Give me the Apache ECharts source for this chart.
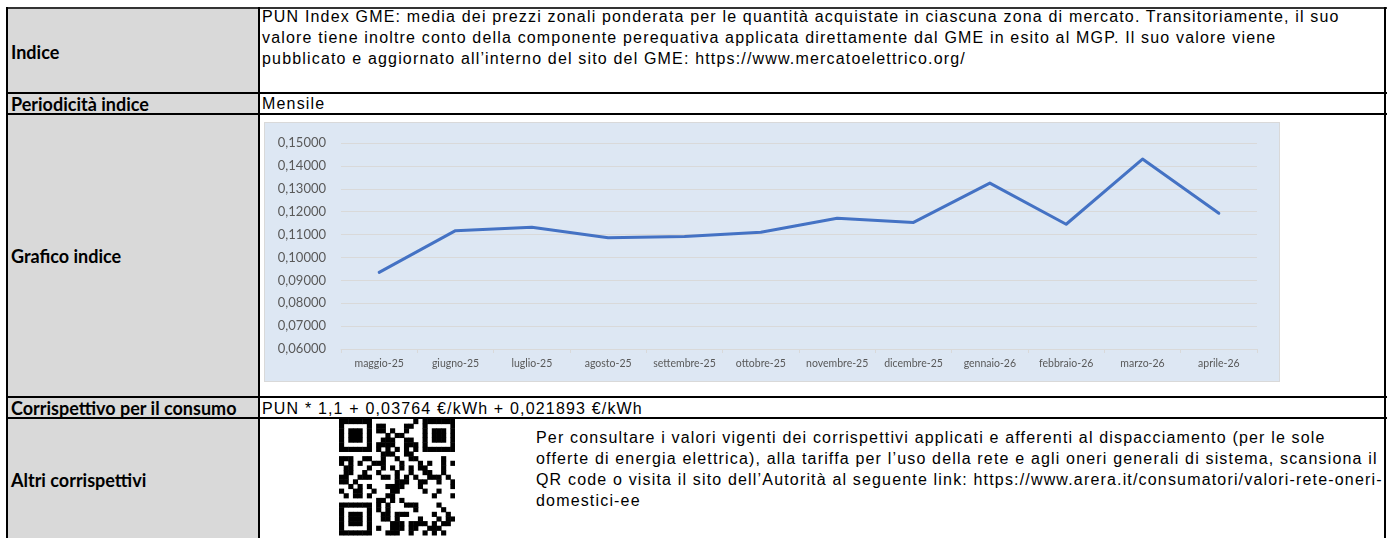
<!DOCTYPE html>
<html>
<head>
<meta charset="utf-8">
<script src="https://cdn.jsdelivr.net/npm/echarts@6/dist/echarts.min.js"></script>
<style>
  html, body { margin: 0; padding: 0; background: #fff; width: 1394px; height: 538px; overflow: hidden; }
  .cell { position: absolute; box-sizing: border-box; }
  .lab { background: #d9d9d9; font-family: Lato, "Open Sans", sans-serif; font-weight: bold; font-size: 18px; color: #000; padding-left: 4px; display: flex; align-items: center; white-space: nowrap; }
  .txt { position: absolute; font-family: "Liberation Sans", Arial, sans-serif; font-size: 16px; letter-spacing: 1.17px; color: #000; white-space: nowrap; line-height: 21px; }
  .hl { position: absolute; background: #000; height: 2px; }
  .vl { position: absolute; background: #000; width: 2px; }
  #chart { position: absolute; left: 264px; top: 122px; width: 1016px; height: 260px; box-sizing: border-box; border: 1px solid #d9d9d9; background: #dde7f3; }
  #qr { position: absolute; left: 339px; top: 419px; }
</style>
</head>
<body>
<!-- left label cells -->
<div class="cell lab" style="left:7px; top:8px; width:251px; height:88px;">Indice</div>
<div class="cell lab" style="left:7px; top:94px; width:251px; height:20px;">Periodicità indice</div>
<div class="cell lab" style="left:7px; top:115px; width:251px; height:282px;">Grafico indice</div>
<div class="cell lab" style="left:7px; top:398px; width:251px; height:20px;">Corrispettivo per il consumo</div>
<div class="cell lab" style="left:7px; top:419px; width:251px; height:122px;">Altri corrispettivi</div>

<!-- right column texts -->
<div class="txt" style="left:262px; top:6px;">PUN Index GME: media dei prezzi zonali ponderata per le quantità acquistate in ciascuna zona di mercato. Transitoriamente, il suo<br>valore tiene inoltre conto della componente perequativa applicata direttamente dal GME in esito al MGP. Il suo valore viene<br>pubblicato e aggiornato all’interno del sito del GME: https://www.mercatoelettrico.org/</div>
<div class="txt" style="left:262px; top:93px;">Mensile</div>
<div class="txt" style="left:262px; top:398px;">PUN * 1,1 + 0,03764 €/kWh + 0,021893 €/kWh</div>
<div class="txt" style="left:536px; top:427px;">Per consultare i valori vigenti dei corrispettivi applicati e afferenti al dispacciamento (per le sole<br>offerte di energia elettrica), alla tariffa per l’uso della rete e agli oneri generali di sistema, scansiona il<br>QR code o visita il sito dell’Autorità al seguente link: https://www.arera.it/consumatori/valori-rete-oneri-<br>domestici-ee</div>

<canvas id="qr" width="116" height="122"></canvas>
<div id="chart"></div>

<!-- grid lines of the table -->
<div class="hl" style="left:6px; top:7px; width:1381px; background:#333;"></div>
<div class="hl" style="left:6px; top:92px; width:1381px;"></div>
<div class="hl" style="left:6px; top:113px; width:1381px;"></div>
<div class="hl" style="left:6px; top:396px; width:1381px;"></div>
<div class="hl" style="left:6px; top:417px; width:1381px;"></div>
<div class="vl" style="left:6px; top:7px; height:540px;"></div>
<div class="vl" style="left:258px; top:7px; height:540px;"></div>
<div class="vl" style="left:1384px; top:7px; height:540px;"></div>

<script>
// ---- data ----
const categories = ['maggio-25','giugno-25','luglio-25','agosto-25','settembre-25','ottobre-25','novembre-25','dicembre-25','gennaio-26','febbraio-26','marzo-26','aprile-26'];
const punValues = [0.0935, 0.1117, 0.1132, 0.1086, 0.1091, 0.1110, 0.1171, 0.1153, 0.1325, 0.1145, 0.1430, 0.1193];
const yMin = 0.06;
const yMax = 0.15;
const yStep = 0.01;

// ---- chart ----
const chart = echarts.init(document.getElementById('chart'), null, { renderer: 'canvas' });
chart.setOption({
  animation: false,
  backgroundColor: 'transparent',
  grid: { left: 76, right: 22, top: 20, bottom: 32, containLabel: false },
  xAxis: {
    type: 'category',
    data: categories,
    boundaryGap: true,
    axisLine: { show: true, lineStyle: { color: '#d9d9d9', width: 1 } },
    axisTick: { show: true, length: 4, lineStyle: { color: '#d9d9d9' } },
    axisLabel: { color: '#595959', fontFamily: 'Lato', fontSize: 10.5, margin: 9, interval: 0 },
    splitLine: { show: false }
  },
  yAxis: {
    type: 'value',
    min: yMin, max: yMax, interval: yStep,
    axisLine: { show: false },
    axisTick: { show: false },
    axisLabel: {
      color: '#595959', fontFamily: 'Lato', fontSize: 13, margin: 15,
      formatter: v => v.toFixed(5).replace('.', ',')
    },
    splitLine: { show: true, lineStyle: { color: '#d9d9d9', width: 1 } }
  },
  series: [{
    type: 'line',
    data: punValues,
    symbol: 'none',
    lineStyle: { color: '#4472c4', width: 3, cap: 'round', join: 'round' },
    itemStyle: { color: '#4472c4' }
  }]
});

// ---- decorative QR code (finder patterns + fixed module pattern) ----
(function () {
  const c = document.getElementById('qr');
  const ctx = c.getContext('2d');
  const n = 25, s = 116 / n;
  ctx.fillStyle = '#fff';
  ctx.fillRect(0, 0, c.width, c.height);
  function finder(r0, c0) {
    for (let r = 0; r < 7; r++) for (let k = 0; k < 7; k++) {
      const edge = r === 0 || r === 6 || k === 0 || k === 6;
      const core = r >= 2 && r <= 4 && k >= 2 && k <= 4;
      if (edge || core) { ctx.fillStyle = '#000'; ctx.fillRect((c0 + k) * s, (r0 + r) * s, s + 0.5, s + 0.5); }
    }
  }
  function inFinder(r, k) {
    return (r < 8 && k < 8) || (r < 8 && k >= n - 8) || (r >= n - 8 && k < 8);
  }
  for (let r = 0; r < n; r++) for (let k = 0; k < n; k++) {
    if (inFinder(r, k)) continue;
    let on;
    if (r === 6) on = k % 2 === 0;
    else if (k === 6) on = r % 2 === 0;
    else on = (((r * 31 + k * 17) ^ (r * k * 7 + 3)) % 5) < 2;
    if (on) { ctx.fillStyle = '#000'; ctx.fillRect(k * s, r * s, s + 0.5, s + 0.5); }
  }
  finder(0, 0); finder(0, n - 7); finder(n - 7, 0);
})();
</script>
</body>
</html>
